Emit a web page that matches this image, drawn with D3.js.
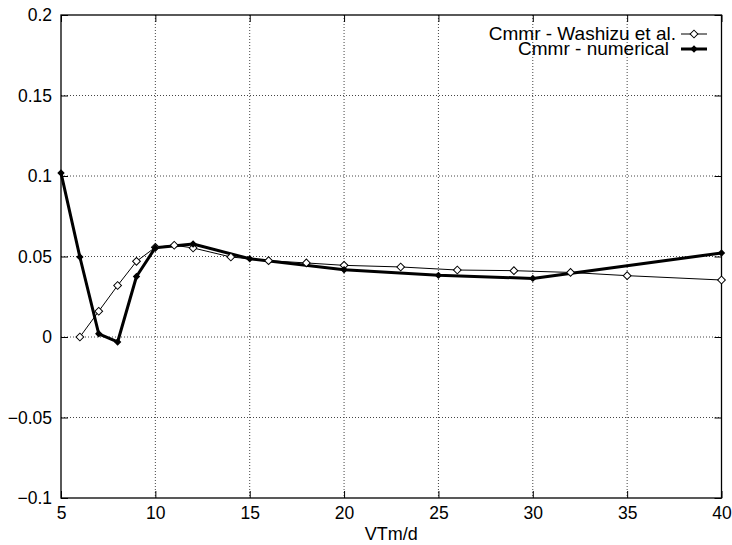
<!DOCTYPE html>
<html lang='en'>
<head>
<meta charset='utf-8'>
<script src='https://d3js.org/d3.v7.min.js'></script>
<style>
  body { margin: 0; background: #fff; }
  svg { display: block; font-family: "Liberation Sans", Arial, sans-serif; }
</style>
</head>
<body>
<svg id='chart' width='732' height='545'></svg>
<script>
// Washizu et al. reference curve
var washX = [6, 7, 8, 9, 10, 11, 12, 14, 16, 18, 20, 23, 26, 29, 32, 35, 40];
var washY = [0, 0.016, 0.032, 0.047, 0.0557, 0.057, 0.0553, 0.0497, 0.0474, 0.046, 0.0445, 0.0435, 0.0416, 0.0412, 0.0401, 0.0381, 0.0354];

// numerical result
var numX = [5, 6, 7, 8, 9, 10, 12, 15, 20, 25, 30, 40];
var numY = [0.1019, 0.0497, 0.002, -0.0031, 0.0376, 0.0555, 0.0578, 0.0486, 0.0418, 0.0383, 0.0364, 0.0522];

var xTicks = [5, 10, 15, 20, 25, 30, 35, 40];
var yTicks = [-0.1, -0.05, 0, 0.05, 0.1, 0.15, 0.2];
var xLabel = 'VTm/d';
var legendNames = ['Cmmr - Washizu et al.', 'Cmmr - numerical'];

var margin = {top: 15, right: 10.5, bottom: 47, left: 61},
    width = 732 - margin.left - margin.right,
    height = 545 - margin.top - margin.bottom;

var svg = d3.select('#chart');
var g = svg.append('g')
  .attr('transform', 'translate(' + margin.left + ',' + margin.top + ')');

var x = d3.scaleLinear().domain([5, 40]).range([0, width]);
var y = d3.scaleLinear().domain([-0.1, 0.2]).range([height, 0]);

// grid
g.selectAll('.gx')
  .data(xTicks.slice(1, -1))
  .enter().append('line')
  .attr('x1', d => x(d)).attr('x2', d => x(d))
  .attr('y1', 0).attr('y2', height)
  .attr('stroke', '#444').attr('stroke-width', 1)
  .attr('stroke-dasharray', '1,2');

g.selectAll('.gy')
  .data(yTicks.slice(1, -1))
  .enter().append('line')
  .attr('x1', 0).attr('x2', width)
  .attr('y1', d => y(d)).attr('y2', d => y(d))
  .attr('stroke', '#444').attr('stroke-width', 1)
  .attr('stroke-dasharray', '1,2');

// axes (ticks pointing inward, on all four sides)
var tick = 7;
g.append('g').attr('transform', 'translate(0,' + height + ')')
  .call(d3.axisBottom(x).tickValues(xTicks).tickSize(-tick).tickPadding(9).tickSizeOuter(0));
g.append('g')
  .call(d3.axisTop(x).tickValues(xTicks).tickSize(-tick).tickFormat('').tickSizeOuter(0));
g.append('g')
  .call(d3.axisLeft(y).tickValues(yTicks).tickSize(-tick).tickPadding(9).tickSizeOuter(0)
    .tickFormat(d => d3.format('')(+d.toFixed(2))));
g.append('g').attr('transform', 'translate(' + width + ',0)')
  .call(d3.axisRight(y).tickValues(yTicks).tickSize(-tick).tickFormat('').tickSizeOuter(0));

g.selectAll('.domain').remove();
g.selectAll('.tick line').attr('stroke', '#000');
g.selectAll('.tick text').attr('fill', '#000').style('font-size', '17.5px')
  .style('font-family', '"Liberation Sans", Arial, sans-serif');

// frame
g.append('rect')
  .attr('width', width).attr('height', height)
  .attr('fill', 'none').attr('stroke', '#000').attr('stroke-width', 1.3);

svg.append('text')
  .attr('x', margin.left + width / 2).attr('y', 540)
  .attr('text-anchor', 'middle')
  .style('font-size', '18px')
  .text(xLabel);

var line = d3.line().x(d => x(d[0])).y(d => y(d[1]));
var washData = d3.zip(washX, washY);
var numData = d3.zip(numX, numY);

var diamond = d3.symbol().type(d3.symbolSquare).size(30);
var dot = d3.symbol().type(d3.symbolSquare).size(14);

g.append('path').datum(washData)
  .attr('d', line).attr('fill', 'none')
  .attr('stroke', '#000').attr('stroke-width', 1);

g.append('path').datum(numData)
  .attr('d', line).attr('fill', 'none')
  .attr('stroke', '#000').attr('stroke-width', 3).attr('stroke-linejoin', 'round');

g.selectAll('.wm').data(washData).enter().append('path')
  .attr('transform', d => 'translate(' + x(d[0]) + ',' + y(d[1]) + ') rotate(45)')
  .attr('d', diamond).attr('fill', '#fff')
  .attr('stroke', '#000').attr('stroke-width', 1);

g.selectAll('.nm').data(numData).enter().append('path')
  .attr('transform', d => 'translate(' + x(d[0]) + ',' + y(d[1]) + ') rotate(45)')
  .attr('d', dot).attr('fill', '#000')
  .attr('stroke', '#000').attr('stroke-width', 1.5);

// legend (gnuplot style key, top right, rows slightly overlapping)
var lg = svg.append('g');
var rows = [
  {name: legendNames[0], w: 1, sym: diamond, fill: '#fff', sw: 1, tx: 676, yy: 34},
  {name: legendNames[1], w: 3, sym: dot, fill: '#000', sw: 1.5, tx: 669, yy: 49}
];
rows.forEach(function(r) {
  lg.append('text')
    .attr('x', r.tx).attr('y', r.yy)
    .attr('dy', '0.3em')
    .attr('text-anchor', 'end')
    .style('font-size', '19px')
    .text(r.name);
  lg.append('line')
    .attr('x1', 681).attr('x2', 707)
    .attr('y1', r.yy).attr('y2', r.yy)
    .attr('stroke', '#000').attr('stroke-width', r.w);
  lg.append('path')
    .attr('transform', 'translate(694,' + r.yy + ') rotate(45)')
    .attr('d', r.sym)
    .attr('fill', r.fill)
    .attr('stroke', '#000').attr('stroke-width', r.sw);
});
</script>
</body>
</html>
